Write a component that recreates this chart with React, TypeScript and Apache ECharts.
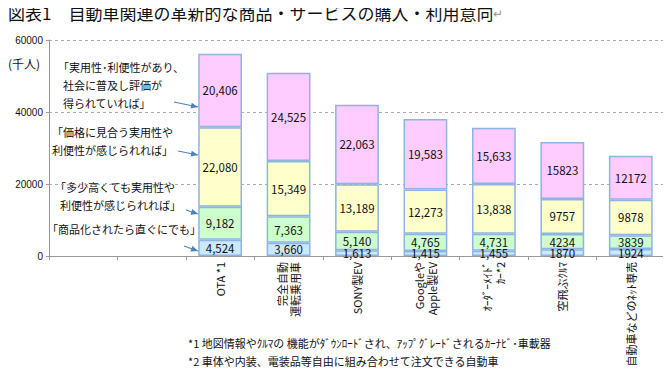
import React, { useEffect, useRef } from "react";
import * as echarts from "echarts";

const categories = [
  "",
  "",
  "OTA *1",
  "完全自動\n運転乗用車",
  "SONY製EV",
  "Googleや\nApple製EV",
  "ｵｰﾀﾞｰﾒｲﾄﾞ\nｶｰ*2",
  "空飛ぶｸﾙﾏ",
  "自動車などのﾈｯﾄ専売",
];
const immediate = [null, null, 4524, 3660, 1613, 1415, 1455, 1870, 1924];
const expensive = [null, null, 9182, 7363, 5140, 4765, 4731, 4234, 3839];
const worthPrice = [null, null, 22080, 15349, 13189, 12273, 13838, 9757, 9878];
const recognized = [null, null, 20406, 24525, 22063, 19583, 15633, 15823, 12172];
const totals = [null, null, 56191, 50896, 42004, 38036, 35657, 31685, 27812];
const yTicks = [0, 20000, 40000, 60000];

const FONT = "'Noto Sans CJK JP', sans-serif";

export default function App() {
  const ref = useRef<HTMLDivElement>(null);
  useEffect(() => {
    if (!ref.current) return;
    const chart = echarts.init(ref.current, null, { renderer: "svg" });
    const fmt = (p: any) => {
      const v = p.value as number;
      if (v == null) return "";
      return p.dataIndex >= 7 ? String(v) : v.toLocaleString("en-US");
    };
    const segment = (name: string, data: any[], color: string) => ({
      name,
      type: "bar",
      stack: "s",
      data,
      barWidth: "64%",
      itemStyle: { color, borderColor: "#8eb4e3", borderWidth: 1.5 },
      label: {
        show: true,
        position: "inside",
        formatter: fmt,
        color: "#111",
        fontSize: 11.5,
        fontFamily: FONT,
      },
    });
    const arrow = (x1: number, y1: number, x2: number, y2: number) => ({
      type: "line",
      shape: { x1, y1, x2, y2 },
      style: { stroke: "#4f81bd", lineWidth: 1.2 },
    });
    const head = (x1: number, y1: number, x2: number, y2: number) => {
      const a = Math.atan2(y2 - y1, x2 - x1);
      const L = 7, W = 3;
      const bx = x2 - L * Math.cos(a), by = y2 - L * Math.sin(a);
      return {
        type: "polygon",
        shape: {
          points: [
            [x2, y2],
            [bx - W * Math.sin(a), by + W * Math.cos(a)],
            [bx + W * Math.sin(a), by - W * Math.cos(a)],
          ],
        },
        style: { fill: "#4f81bd" },
      };
    };
    const txt = (x: number, y: number, text: string, extra: any = {}) => ({
      type: "text",
      x,
      y,
      style: {
        text,
        fill: "#111",
        font: `11px ${FONT}`,
        lineHeight: 18,
        ...extra,
      },
    });
    const arrows = [
      [174, 102, 198, 107],
      [178, 151, 198, 155],
      [186, 210, 198, 214],
      [184, 246, 198, 251],
    ];
    chart.setOption({
      animation: false,
      grid: { left: 49, right: 6, top: 40, bottom: 134 },
      xAxis: {
        type: "category",
        data: categories,
        axisLine: { lineStyle: { color: "#999" } },
        axisTick: { show: true, lineStyle: { color: "#999" }, length: 4 },
        axisLabel: {
          rotate: 90,
          interval: 0,
          color: "#111",
          fontSize: 11,
          fontFamily: FONT,
          lineHeight: 13,
          margin: 6,
        },
      },
      yAxis: {
        type: "value",
        min: 0,
        max: 60000,
        interval: 20000,
        axisLine: { show: true, lineStyle: { color: "#999" } },
        axisTick: { show: true, length: 3, lineStyle: { color: "#999" } },
        splitLine: { lineStyle: { color: "#aaa", type: [3, 3] } },
        axisLabel: {
          color: "#111",
          fontSize: 10,
          fontFamily: "'Liberation Sans', sans-serif",
          margin: 6,
          formatter: (v: number) => (yTicks.includes(v) ? String(v) : ""),
        },
      },
      series: [
        segment("「商品化されたら直ぐにでも」", immediate, "#cce8fc"),
        segment("「多少高くても実用性や利便性が感じられれば」", expensive, "#ccffcc"),
        segment("「価格に見合う実用性や利便性が感じられれば」", worthPrice, "#ffffcc"),
        segment("「実用性･利便性があり、社会に普及し評価が得られていれば」", recognized, "#ffccff"),
        {
          name: "合計",
          type: "line",
          data: totals,
          symbol: "none",
          lineStyle: { opacity: 0 },
          label: {
            show: true,
            position: "top",
            distance: 5,
            color: "#111",
            fontSize: 11.5,
            fontFamily: FONT,
            formatter: (p: any) => (p.value == null ? "" : (p.value as number).toLocaleString("en-US")),
          },
        },
      ],
      graphic: [
        {
          type: "text",
          x: 8,
          y: 4,
          style: {
            text: "{t|図表1　自動車関連の革新的な商品・サービスの購入・利用意向}{r|↵}",
            rich: {
              t: { font: `17px ${FONT}`, fill: "#111" },
              r: { font: `12px ${FONT}`, fill: "#999" },
            },
          },
        },
        txt(8, 54, "(千人)", { font: `12px ${FONT}` }),
        txt(58, 58, "「実用性･利便性があり、\n  社会に普及し評価が\n  得られていれば」"),
        txt(52, 123, "「価格に見合う実用性や\n利便性が感じられれば」"),
        txt(55, 178, "「多少高くても実用性や\n  利便性が感じられれば」"),
        txt(47, 220, "「商品化されたら直ぐにでも」"),
        ...arrows.map((a) => arrow(a[0], a[1], a[2], a[3])),
        ...arrows.map((a) => head(a[0], a[1], a[2], a[3])),
        txt(188, 334, "*1 地図情報やｸﾙﾏの 機能がﾀﾞｳﾝﾛｰﾄﾞされ、ｱｯﾌﾟｸﾞﾚｰﾄﾞされるｶｰﾅﾋﾞ･車載器", {
          font: `11px ${FONT}`,
        }),
        txt(188, 352, "*2 車体や内装、電装品等自由に組み合わせて注文できる自動車", {
          font: `11px ${FONT}`,
        }),
      ],
    });
    return () => chart.dispose();
  }, []);
  return <div ref={ref} style={{ width: 671, height: 390, margin: -8 }} />;
}
